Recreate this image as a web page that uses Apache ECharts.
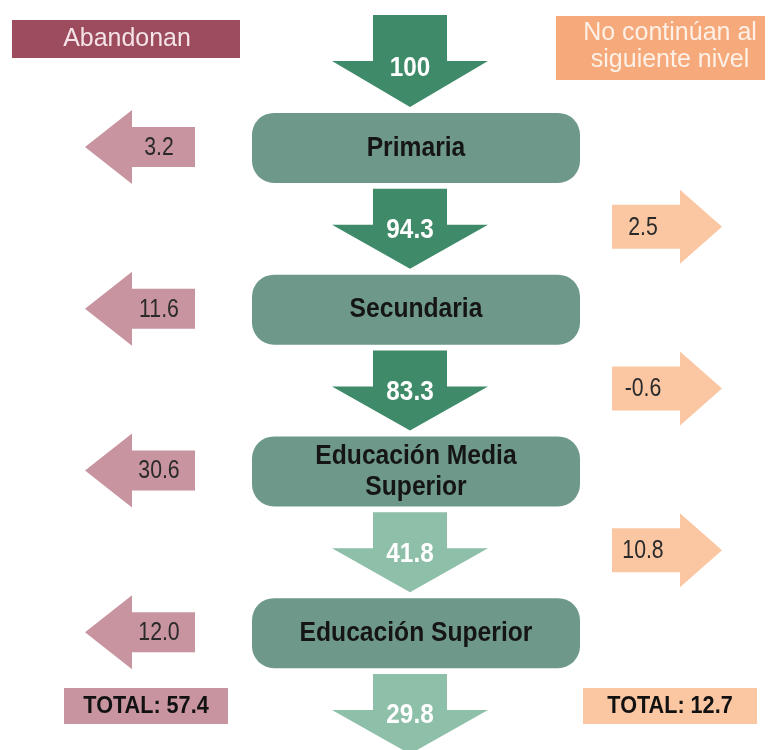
<!DOCTYPE html>
<html>
<head>
<meta charset="utf-8">
<script src="https://cdn.jsdelivr.net/npm/echarts@6/dist/echarts.min.js"></script>
<style>
  html, body { margin: 0; padding: 0; background: #fff; }
  #chart { width: 770px; height: 750px; }
</style>
</head>
<body>
<div id="chart"></div>
<script>
// ===== data =====
const stages = ['Primaria', 'Secundaria', 'Educación Media\nSuperior', 'Educación Superior'];
const flowValues = [100, 94.3, 83.3, 41.8, 29.8];          // alumnos que pasan
const abandonValues = [3.2, 11.6, 30.6, 12.0];             // abandonan en cada nivel
const notContinueValues = [2.5, -0.6, 10.8];               // no continúan al siguiente nivel
const totalAbandon = 57.4;
const totalNotContinue = 12.7;
const headerLeft = 'Abandonan';
const headerRight = 'No continúan al\nsiguiente nivel';

// ===== layout / estilo =====
const FONT = "'Liberation Sans', Arial, sans-serif";
const COL = { left: 140, mid: 416, arrow: 410, right: 667 };
const C = {
  flowDark: '#3f8b69',
  flowLight: '#8ebfa9',
  box: '#6e998a',
  abandon: '#c8949f',
  abandonHead: '#9c4c5c',
  notCont: '#fbc6a2',
  notContHead: '#f6aa7b',
};

// texto "estrecho" (la fuente original es tipo Arial Narrow)
function txt(x, y, text, font, fill, sx, lh) {
  return {
    type: 'text', x: x, y: y, scaleX: sx,
    style: { x: 0, y: 0, text: text, font: font, fill: fill, align: 'center', verticalAlign: 'middle', lineHeight: lh },
  };
}

const chart = echarts.init(document.getElementById('chart'));

// flechas hacia abajo (flujo)
function renderFlow(params, api) {
  const p = api.coord([COL.arrow, api.value(0)]);
  const cx = p[0], cy = p[1];
  const top = params.dataIndex === 0 ? cy - 50 : cy - 38;
  const j = params.dataIndex === 0 ? cy - 4 : cy - 2;
  const tip = cy + 42;
  const color = params.dataIndex < 3 ? C.flowDark : C.flowLight;
  return {
    type: 'group',
    children: [
      {
        type: 'polygon',
        shape: { points: [[cx - 37, top], [cx + 37, top], [cx + 37, j], [cx + 78, j], [cx, tip], [cx - 78, j], [cx - 37, j]] },
        style: { fill: color },
      },
      txt(cx, cy + 4, String(api.value(1)), 'bold 27px ' + FONT, '#fff', 0.9),
    ],
  };
}

// cajas de nivel educativo
function renderStage(params, api) {
  const p = api.coord([COL.mid, api.value(0)]);
  const cx = p[0], cy = p[1];
  return {
    type: 'group',
    children: [
      { type: 'rect', shape: { x: cx - 164, y: cy - 33, width: 328, height: 70, r: 22 }, style: { fill: C.box } },
      txt(cx, cy + 2, stages[params.dataIndex], 'bold 28px ' + FONT, '#151515', 0.88, 31),
    ],
  };
}

// flechas a la izquierda (abandonan)
function renderAbandon(params, api) {
  const p = api.coord([COL.left, api.value(0)]);
  const cx = p[0], cy = p[1] + 1;
  return {
    type: 'group',
    children: [
      {
        type: 'polygon',
        shape: { points: [[cx - 55, cy], [cx - 8, cy - 37], [cx - 8, cy - 20], [cx + 55, cy - 20], [cx + 55, cy + 20], [cx - 8, cy + 20], [cx - 8, cy + 37]] },
        style: { fill: C.abandon },
      },
      txt(cx + 19, cy + 1, api.value(1).toFixed(1), '25px ' + FONT, '#2a2a2a', 0.85),
    ],
  };
}

// flechas a la derecha (no continúan)
function renderNotCont(params, api) {
  const p = api.coord([COL.right, api.value(0)]);
  const cx = p[0], cy = p[1];
  return {
    type: 'group',
    children: [
      {
        type: 'polygon',
        shape: { points: [[cx - 55, cy - 22], [cx + 13, cy - 22], [cx + 13, cy - 37], [cx + 55, cy], [cx + 13, cy + 37], [cx + 13, cy + 22], [cx - 55, cy + 22]] },
        style: { fill: C.notCont },
      },
      txt(cx - 24, cy + 1, api.value(1).toFixed(1), '25px ' + FONT, '#2a2a2a', 0.85),
    ],
  };
}

// totales
function renderTotal(params, api) {
  const left = params.dataIndex === 0;
  const p = api.coord([left ? COL.left : COL.right, api.value(0)]);
  const cx = p[0] + (left ? 6 : 3), cy = p[1] - 6;
  const w = left ? 164 : 174;
  return {
    type: 'group',
    children: [
      { type: 'rect', shape: { x: cx - w / 2, y: cy - 18, width: w, height: 36 }, style: { fill: left ? C.abandon : C.notCont } },
      txt(cx, cy + 1, 'TOTAL: ' + api.value(1), 'bold 23px ' + FONT, '#111', 0.94),
    ],
  };
}

chart.setOption({
  animation: false,
  grid: { left: 0, right: 0, top: 65, bottom: 38 },
  xAxis: { type: 'value', min: 0, max: 770, show: false },
  yAxis: { type: 'value', min: 0, max: 8, inverse: true, show: false },
  graphic: [
    { type: 'rect', x: 12, y: 20, shape: { width: 228, height: 38 }, style: { fill: C.abandonHead } },
    txt(127, 39, headerLeft, '26px ' + FONT, '#f4e3e7', 0.96),
    { type: 'rect', x: 556, y: 16, shape: { width: 209, height: 64 }, style: { fill: C.notContHead } },
    txt(670, 47, headerRight, '25px ' + FONT, '#fdf0e6', 1.0, 27),
  ],
  series: [
    { type: 'custom', renderItem: renderFlow, clip: false, data: flowValues.map((v, i) => [2 * i, v]), encode: { y: 0 } },
    { type: 'custom', renderItem: renderStage, clip: false, data: stages.map((s, i) => [2 * i + 1, i]), encode: { y: 0 } },
    { type: 'custom', renderItem: renderAbandon, clip: false, data: abandonValues.map((v, i) => [2 * i + 1, v]), encode: { y: 0 } },
    { type: 'custom', renderItem: renderNotCont, clip: false, data: notContinueValues.map((v, i) => [2 * i + 2, v]), encode: { y: 0 } },
    { type: 'custom', renderItem: renderTotal, clip: false, data: [[8, totalAbandon], [8, totalNotContinue]], encode: { y: 0 } },
  ],
});
</script>
</body>
</html>
